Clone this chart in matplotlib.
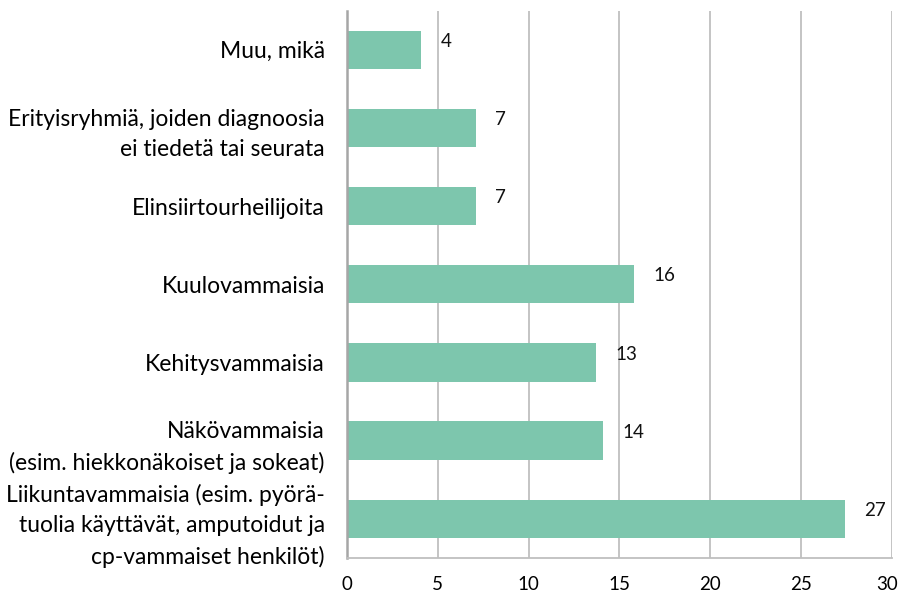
import matplotlib
matplotlib.use("Agg")
import matplotlib.pyplot as plt
import matplotlib.transforms as mtransforms

categories = [
    "Liikuntavammaisia (esim. pyörä-\ntuolia käyttävät, amputoidut ja\ncp-vammaiset henkilöt)",
    "Näkövammaisia\n(esim. hiekkonäkoiset ja sokeat)",
    "Kehitysvammaisia",
    "Kuulovammaisia",
    "Elinsiirtourheilijoita",
    "Erityisryhmiä, joiden diagnoosia\nei tiedetä tai seurata",
    "Muu, mikä",
]
bar_values = [27.4, 14.1, 13.7, 15.8, 7.1, 7.1, 4.1]
label_values = [27, 14, 13, 16, 7, 7, 4]
xticks = [0, 5, 10, 15, 20, 25, 30]

plt.rcParams["font.family"] = ["Lato", "DejaVu Sans"]
fig = plt.figure(figsize=(8.99, 5.96), dpi=100)
ax = fig.add_axes([0.386, 0.064, 0.606, 0.918])

ypos = range(len(categories))
ax.barh(ypos, bar_values, height=0.49, color="#7DC6AD", zorder=2)
for y, v, lab in zip(ypos, bar_values, label_values):
    ax.annotate(str(lab), (v, y), xytext=(14, 6), textcoords="offset points",
                ha="left", va="center", fontsize=13.5, color="#111111")

ax.set_xlim(0, 30)
ax.set_ylim(-0.5, len(categories) - 0.5)
ax.set_xticks(xticks)
ax.set_yticks(list(ypos))
ax.set_yticklabels(categories, fontsize=16.5, linespacing=1.55)
ax.tick_params(axis="x", length=0, pad=13, labelsize=13.5)
ax.tick_params(axis="y", length=0, pad=16)
# keep the last tick label inside the canvas
last = ax.get_xticklabels()[-1]
last.set_transform(last.get_transform() + mtransforms.ScaledTranslation(-0.05, 0, fig.dpi_scale_trans))
ax.grid(axis="x", color="#BFBFBF", linewidth=1.3, zorder=0)
for s in ["top", "right"]:
    ax.spines[s].set_visible(False)
ax.spines["left"].set_color("#A6A6A6")
ax.spines["left"].set_linewidth(1.8)
ax.spines["bottom"].set_color("#BFBFBF")
ax.spines["bottom"].set_linewidth(1.3)

fig.savefig("out.png", dpi=100)
plt.close(fig)
